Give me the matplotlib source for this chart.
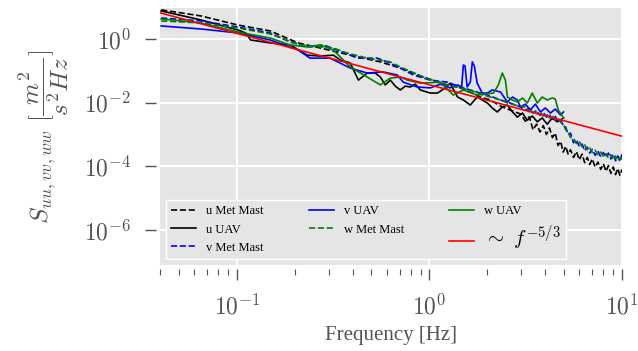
import matplotlib
matplotlib.use("Agg")
import matplotlib.pyplot as plt
from matplotlib.ticker import LogLocator, NullLocator

plt.rcParams['font.family'] = 'serif'
plt.rcParams['font.serif'] = ['Liberation Serif', 'DejaVu Serif']
plt.rcParams['mathtext.fontset'] = 'cm'

# Espectros (frecuencia en Hz, densidad espectral)
f_u_mast = [0.0405, 0.065, 0.101, 0.149, 0.208, 0.271, 0.388, 0.556, 0.706, 0.897,
            1.14, 1.45, 1.63, 1.84, 2.07, 2.34, 2.63, 2.97,
            3.15, 3.3, 3.45, 3.6, 3.75, 3.9, 4.05, 4.2, 4.35, 4.5,
            4.65, 4.8, 4.95, 5.1, 5.25, 5.4, 5.6, 5.8, 6.0, 6.2,
            6.4, 6.6, 6.8, 7.0, 7.25, 7.5, 7.75, 8.0, 8.25, 8.5,
            8.75, 9.0, 9.25, 9.5, 9.75, 10.0]
s_u_mast = [8.2, 5.3, 2.75, 1.79, 0.75, 0.52, 0.31, 0.19, 0.122, 0.069,
            0.041, 0.0288, 0.0215, 0.015, 0.0121, 0.0078, 0.0058, 0.0044,
            0.0026, 0.0036, 0.0014, 0.0021, 0.0012, 0.0019, 0.0010, 0.0016, 0.0008, 0.0011,
            0.00045, 0.0006, 0.00028, 0.00042, 0.00024, 0.00033, 0.00019, 0.00029, 0.00016, 0.00024,
            0.00013, 0.00019, 0.000115, 0.00017, 9.5e-5, 0.000135, 8e-5, 0.00012, 7e-5, 0.000105,
            6e-5, 9.5e-5, 5.5e-5, 8.5e-5, 5.2e-5, 8e-5]

f_u_uav = [0.0405, 0.065, 0.101, 0.111, 0.118, 0.149, 0.189, 0.232, 0.271, 0.317,
           0.344, 0.388, 0.428, 0.475, 0.523, 0.556, 0.590, 0.627, 0.665, 0.706,
           0.750, 0.796, 0.845, 0.897, 1.01, 1.10, 1.21, 1.28, 1.40, 1.50,
           1.63, 1.77, 1.88, 2.0, 2.12, 2.25, 2.39, 2.54, 2.70, 2.86,
           3.04, 3.22, 3.42, 3.63, 3.85, 4.09, 4.34, 4.61, 4.97]
s_u_uav = [7.6, 3.96, 1.92, 1.55, 0.93, 0.75, 0.65, 0.31, 0.29, 0.31,
           0.22, 0.176, 0.051, 0.085, 0.085, 0.064, 0.036, 0.051, 0.033, 0.025,
           0.033, 0.031, 0.038, 0.025, 0.020, 0.020, 0.029, 0.041, 0.015, 0.0121,
           0.0084, 0.015, 0.0121, 0.0097, 0.0068, 0.0051, 0.0073, 0.0084, 0.0051, 0.0035,
           0.0047, 0.0028, 0.0038, 0.0025, 0.0033, 0.0021, 0.0033, 0.0025, 0.0033]

f_v_mast = [0.0405, 0.065, 0.101, 0.149, 0.189, 0.240, 0.281, 0.332, 0.388, 0.422,
            0.536, 0.604, 0.706, 0.824, 1.01, 1.24, 1.45, 1.63, 1.84, 2.07,
            2.34, 2.63, 2.97,
            3.15, 3.3, 3.45, 3.6, 3.75, 3.9, 4.05, 4.2, 4.35, 4.5,
            4.65, 4.8, 4.95, 5.1, 5.25, 5.4, 5.6, 5.8, 6.0, 6.2,
            6.4, 6.6, 6.8, 7.0, 7.25, 7.5, 7.75, 8.0, 8.25, 8.5,
            8.75, 9.0, 9.25, 9.5, 9.75, 10.0]
s_v_mast = [4.57, 3.68, 2.38, 1.55, 0.80, 0.56, 0.65, 0.45, 0.31, 0.25,
            0.25, 0.19, 0.122, 0.074, 0.051, 0.044, 0.031, 0.025, 0.020, 0.0161,
            0.0121, 0.0097, 0.0073,
            0.0058, 0.0066, 0.0047, 0.0056, 0.0040, 0.0050, 0.0035, 0.0042, 0.0030, 0.0037,
            0.0026, 0.0029, 0.0019, 0.0017, 0.0010, 0.0011, 0.00055, 0.00068, 0.00042, 0.0005,
            0.00031, 0.0004, 0.00026, 0.00034, 0.00022, 0.0003, 0.0002, 0.00027, 0.00019, 0.00026,
            0.00017, 0.00024, 0.00015, 0.00021, 0.00014, 0.00024]

f_v_uav = [0.0405, 0.065, 0.101, 0.149, 0.208, 0.240, 0.305, 0.388, 0.475, 0.575,
           0.681, 0.731, 0.865, 1.01, 1.14, 1.28, 1.40, 1.47, 1.50, 1.53,
           1.57, 1.63, 1.67, 1.71, 1.77, 1.88, 2.0, 2.12, 2.34, 2.54,
           2.70, 2.86, 2.97, 3.15, 3.34, 3.55, 3.77, 4.0, 4.25, 4.50,
           4.79, 4.97]
s_v_uav = [2.56, 2.06, 1.55, 0.93, 0.45, 0.25, 0.25, 0.122, 0.085, 0.092,
           0.074, 0.044, 0.031, 0.029, 0.038, 0.029, 0.036, 0.031, 0.152, 0.142,
           0.031, 0.044, 0.19, 0.142, 0.041, 0.020, 0.020, 0.025, 0.0215, 0.0104,
           0.015, 0.0121, 0.0073, 0.009, 0.0058, 0.009, 0.0051, 0.0068, 0.0047, 0.0063,
           0.0041, 0.0051]

f_w_mast = [0.0405, 0.065, 0.101, 0.149, 0.213, 0.317, 0.374, 0.475, 0.627, 0.706,
            0.929, 1.24, 1.45, 1.63, 1.84, 2.07, 2.34, 2.63, 2.97,
            3.15, 3.3, 3.45, 3.6, 3.75, 3.9, 4.05, 4.2, 4.35, 4.5,
            4.65, 4.8, 4.95, 5.1, 5.25, 5.4, 5.6, 5.8, 6.0, 6.2,
            6.4, 6.6, 6.8, 7.0, 7.25, 7.5, 7.75, 8.0, 8.25, 8.5,
            8.75, 9.0, 9.25, 9.5, 9.75, 10.0]
s_w_mast = [3.68, 3.18, 2.22, 1.44, 0.65, 0.52, 0.36, 0.25, 0.19, 0.132,
            0.064, 0.036, 0.029, 0.025, 0.0186, 0.015, 0.0121, 0.009, 0.0078,
            0.0072, 0.0052, 0.0060, 0.0045, 0.0052, 0.0038, 0.0045, 0.0033, 0.0039, 0.0029,
            0.0033, 0.0024, 0.0021, 0.0014, 0.0012, 0.0008, 0.00075, 0.00052, 0.0006, 0.00041,
            0.00047, 0.00033, 0.00038, 0.00027, 0.00032, 0.00023, 0.00028, 0.0002, 0.00025, 0.00018,
            0.00023, 0.00016, 0.00021, 0.00015, 0.00019, 0.00014]

f_w_uav = [0.0405, 0.065, 0.101, 0.149, 0.189, 0.232, 0.271, 0.317, 0.388, 0.475,
           0.556, 0.627, 0.706, 0.768, 0.897, 1.14, 1.33, 1.50, 1.77, 2.15,
           2.28, 2.39, 2.48, 2.54, 2.70, 2.86, 3.04, 3.22, 3.42, 3.63,
           3.85, 4.09, 4.34, 4.50, 4.67, 4.97]
s_w_uav = [4.26, 3.18, 1.66, 1.07, 0.65, 0.56, 0.65, 0.45, 0.132, 0.064,
           0.036, 0.059, 0.064, 0.051, 0.041, 0.044, 0.0173, 0.025, 0.0173, 0.020,
           0.036, 0.085, 0.051, 0.015, 0.0121, 0.0104, 0.014, 0.0097, 0.020, 0.0097,
           0.015, 0.0121, 0.014, 0.013, 0.0058, 0.0033]

# Recta de referencia ~ f^(-5/3) (extremos)
f_ref = [0.04, 10.0]
s_ref = [6.6, 8.8e-4]

series = [
    (f_u_mast, s_u_mast, 'k', '--', 'u Met Mast'),
    (f_u_uav, s_u_uav, 'k', '-', 'u UAV'),
    (f_v_mast, s_v_mast, 'b', '--', 'v Met Mast'),
    (f_v_uav, s_v_uav, 'b', '-', 'v UAV'),
    (f_w_mast, s_w_mast, 'g', '--', 'w Met Mast'),
    (f_w_uav, s_w_uav, 'g', '-', 'w UAV'),
    (f_ref, s_ref, 'r', '-', r'$\sim\ f^{-5/3}$'),
]

gray = '#555555'

fig = plt.figure(figsize=(6.38, 3.51), dpi=100)
ax = fig.add_axes([0.251, 0.245, 0.724, 0.732])
ax.set_facecolor('#E5E5E5')

for f, s, c, ls, lab in series:
    ax.plot(f, s, color=c, linestyle=ls, linewidth=1.2, label=lab)

ax.set_xscale('log')
ax.set_yscale('log')
ax.set_xlim(0.04, 10)
ax.set_ylim(10 ** -7.1, 10 ** 0.97)

ax.set_xticks([0.1, 1, 10], [r'$10^{-1}$', r'$10^{0}$', r'$10^{1}$'])
ax.xaxis.set_minor_locator(LogLocator(base=10, subs=range(2, 10)))
ax.set_yticks([1e-6, 1e-4, 1e-2, 1], [r'$10^{-6}$', r'$10^{-4}$', r'$10^{-2}$', r'$10^{0}$'])
ax.yaxis.set_minor_locator(NullLocator())

ax.grid(True, which='major', color='white', linewidth=1.4)
ax.set_axisbelow(True)
for side in ['top', 'right', 'left', 'bottom']:
    ax.spines[side].set_visible(False)
ax.spines['bottom'].set_position(('outward', 3))
ax.spines['left'].set_position(('outward', 3))

ax.tick_params(axis='both', which='major', direction='out', length=8, width=1,
               color=gray, labelcolor=gray, labelsize=17, pad=10)
ax.tick_params(axis='x', which='minor', direction='out', length=4, width=0.8, color=gray)

ax.set_xlabel('Frequency [Hz]', fontsize=15, color=gray, labelpad=5)
ax.set_ylabel(r'$S_{uu,vv,ww}\ [\dfrac{m^2}{s^2Hz}]$', fontsize=18, color=gray,
              labelpad=9)

leg = ax.legend(loc='lower left', ncol=3, fontsize=9, frameon=True, fancybox=False,
                facecolor='#E5E5E5', edgecolor='white', framealpha=1.0,
                handlelength=2.0, handletextpad=0.8, columnspacing=3.6,
                borderaxespad=0.5)
leg.get_texts()[-1].set_fontsize(15)

fig.savefig('out.png', dpi=100)
